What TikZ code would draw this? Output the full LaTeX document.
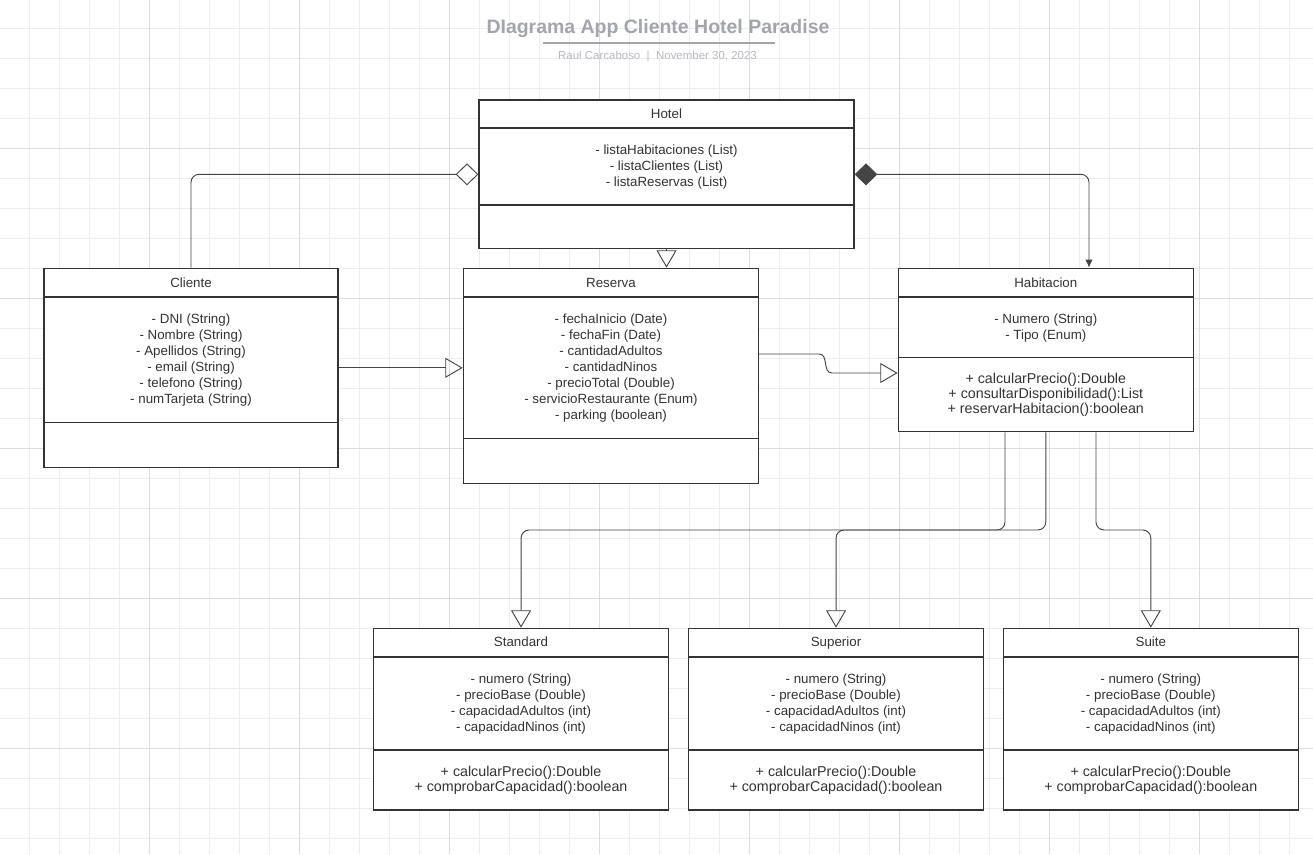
\documentclass[tikz,border=0pt]{standalone}
\usepackage{fontspec}
\setmainfont{Liberation Sans}
\usetikzlibrary{arrows.meta,fit,positioning}

\definecolor{gridline}{HTML}{EDEDED}
\definecolor{gridmajor}{HTML}{DCDCDC}
\definecolor{ink}{HTML}{333333}
\definecolor{wire}{HTML}{444444}
\definecolor{titlegray}{HTML}{A1A5AE}
\definecolor{subgray}{HTML}{B5B9C1}

\tikzset{
  classbox/.style={draw=ink, line width=1pt, fill=white, inner sep=0pt},
  divider/.style={draw=ink, line width=1pt},
  classname/.style={text=ink, inner sep=0pt, anchor=base, font=\fontsize{10}{12}\selectfont},
  attrs/.style={text=ink, align=center, inner sep=0pt, font=\fontsize{10}{12}\selectfont},
  methods/.style={text=ink, align=center, inner sep=0pt, font=\fontsize{10.7}{11.25}\selectfont},
  link/.style={draw=wire, line width=0.7pt, rounded corners=6pt},
  gen/.style={link, -{Triangle[open, length=13pt, width=15pt]}},
  aggr/.style={link, -{Diamond[open, length=17pt, width=16.5pt]}},
  comp/.style={link, {Diamond[length=17pt, width=16.5pt]}-{Latex[length=6pt, width=5.5pt]}},
}

\begin{document}
\begin{tikzpicture}[x=0.75pt, y=-0.75pt]
  \useasboundingbox[fill=white] (0,0) rectangle (1313,854);

  % background grid
  \foreach \gx in {29.5,59.5,...,1313} \draw[gridline] (\gx,0) -- (\gx,854);
  \foreach \gy in {28,58,...,854} \draw[gridline] (0,\gy) -- (1313,\gy);
  \foreach \gx in {149.5,299.5,...,1313} \draw[gridmajor] (\gx,0) -- (\gx,854);
  \foreach \gy in {148,298,...,854} \draw[gridmajor] (0,\gy) -- (1313,\gy);

  % title
  \node[text=titlegray, font=\fontsize{14.6}{17}\selectfont\bfseries, anchor=base] (title) at (658,33.5) {DIagrama App Cliente Hotel Paradise};
  \draw[titlegray, line width=1.5pt] (543,43) -- (775,43);
  \node[text=subgray, font=\fontsize{8.6}{10}\selectfont, anchor=base] (author) at (657.5,59) {Raul Carcaboso\ \ |\ \ November 30, 2023};

  % Hotel
  \node[classbox, fit={(479,100) (854,248.7)}] (hotel) {};
  \draw[divider] (479,128) -- (854,128) (479,205) -- (854,205);
  \node[classname] (hotel-name) at (666.5,118) {Hotel};
  \node[attrs] (hotel-attrs) at (666.5,167) {- listaHabitaciones (List)\\- listaClientes (List)\\- listaReservas (List)};

  % Cliente
  \node[classbox, fit={(44,268.3) (338,467.3)}] (cliente) {};
  \draw[divider] (44,297) -- (338,297) (44,422.7) -- (338,422.7);
  \node[classname] (cliente-name) at (191,287) {Cliente};
  \node[attrs] (cliente-attrs) at (191,360) {- DNI (String)\\- Nombre (String)\\- Apellidos (String)\\- email (String)\\- telefono (String)\\- numTarjeta (String)};

  % Reserva
  \node[classbox, fit={(463.3,268.3) (758.3,483.3)}] (reserva) {};
  \draw[divider] (463.3,297) -- (758.3,297) (463.3,438.3) -- (758.3,438.3);
  \node[classname] (reserva-name) at (611,287) {Reserva};
  \node[attrs] (reserva-attrs) at (611,368) {- fechaInicio (Date)\\- fechaFin (Date)\\- cantidadAdultos\\- cantidadNinos\\- precioTotal (Double)\\- servicioRestaurante (Enum)\\- parking (boolean)};

  % Habitacion
  \node[classbox, fit={(898.3,268.3) (1193.3,431.7)}] (habitacion) {};
  \draw[divider] (898.3,297) -- (1193.3,297) (898.3,357.7) -- (1193.3,357.7);
  \node[classname] (habitacion-name) at (1045.8,287) {Habitacion};
  \node[attrs] (habitacion-attrs) at (1045.8,328) {- Numero (String)\\- Tipo (Enum)};
  \node[methods] (habitacion-methods) at (1045.8,395) {+ calcularPrecio():Double\\+ consultarDisponibilidad():List\\+ reservarHabitacion():boolean};

  % Standard, Superior, Suite
  \node[classbox, fit={(373.8,628.3) (668.3,810)}] (standard) {};
  \draw[divider] (373.8,657) -- (668.3,657) (373.8,750) -- (668.3,750);
  \node[classname] (standard-name) at (521,646.5) {Standard};
  \node[attrs] (standard-attrs) at (521,704) {- numero (String)\\- precioBase (Double)\\- capacidadAdultos (int)\\- capacidadNinos (int)};
  \node[methods] (standard-methods) at (521,780.5) {+ calcularPrecio():Double\\+ comprobarCapacidad():boolean};

  \node[classbox, fit={(688.8,628.3) (983.3,810)}] (superior) {};
  \draw[divider] (688.8,657) -- (983.3,657) (688.8,750) -- (983.3,750);
  \node[classname] (superior-name) at (836,646.5) {Superior};
  \node[attrs] (superior-attrs) at (836,704) {- numero (String)\\- precioBase (Double)\\- capacidadAdultos (int)\\- capacidadNinos (int)};
  \node[methods] (superior-methods) at (836,780.5) {+ calcularPrecio():Double\\+ comprobarCapacidad():boolean};

  \node[classbox, fit={(1003.3,628.3) (1298.3,810)}] (suite) {};
  \draw[divider] (1003.3,657) -- (1298.3,657) (1003.3,750) -- (1298.3,750);
  \node[classname] (suite-name) at (1150.8,646.5) {Suite};
  \node[attrs] (suite-attrs) at (1150.8,704) {- numero (String)\\- precioBase (Double)\\- capacidadAdultos (int)\\- capacidadNinos (int)};
  \node[methods] (suite-methods) at (1150.8,780.5) {+ calcularPrecio():Double\\+ comprobarCapacidad():boolean};

  % relations
  \draw[aggr] (cliente.north) |- (hotel.west);
  \draw[comp] (hotel.east) -| (habitacion.north -| 1089,0);
  \draw[gen] (hotel.south) -- (reserva.north -| hotel.south);
  \draw[gen] (cliente.east) -- (cliente.east -| reserva.west);
  \draw[gen, sharp corners] (reserva.east |- 0,354) -- (819,354) .. controls (829,354) and (822,373) .. (832,373) -- (habitacion.west |- 0,373);
  \draw[gen] (habitacion.south -| 1005,0) -- (1005,530) -| (standard.north);
  \draw[gen] (habitacion.south) -- (habitacion.south |- 0,530) -| (superior.north);
  \draw[gen] (habitacion.south -| 1096,0) -- (1096,530) -| (suite.north);
\end{tikzpicture}
\end{document}
